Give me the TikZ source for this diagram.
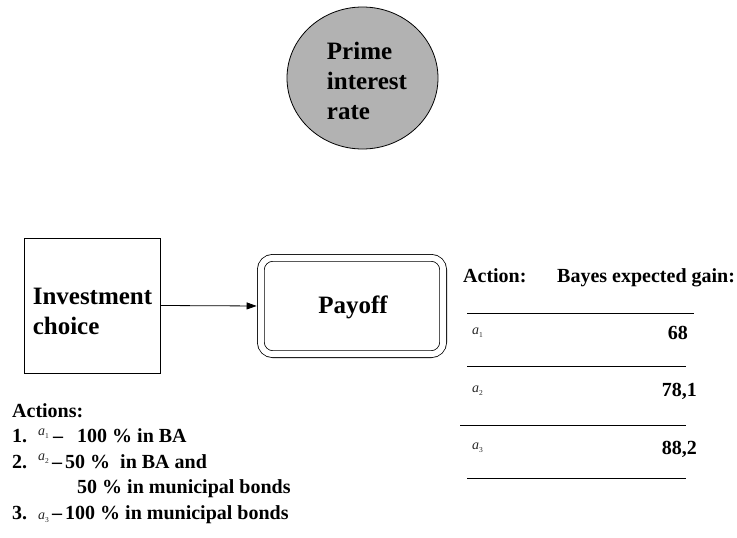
\documentclass[tikz,border=0pt]{standalone}
\usepackage{fontspec}
\setmainfont{Liberation Serif}
\usetikzlibrary{arrows.meta,shapes.geometric}
% italic action variable with a small subscript index
\newcommand\actvar[1]{\textit{a}\raisebox{-0.22em}{\fontsize{7.5}{7.5}\selectfont #1}}
\begin{document}
\begin{tikzpicture}[x=1pt,y=-1pt,
  bigtxt/.style={font=\fontsize{25}{30}\selectfont\bfseries, inner sep=0pt, align=left},
  txt/.style={font=\fontsize{20}{24}\selectfont\bfseries, inner sep=0pt},
  avar/.style={font=\fontsize{14}{16}\selectfont, inner sep=0pt, text=black!85},
  tablerule/.style={line width=1pt},
  frame/.style={draw, line width=0.8pt, inner sep=0pt},
]
\useasboundingbox (0,0) rectangle (737,538);

% chance node
\node[frame, ellipse, fill=black!30, minimum width=151pt, minimum height=142pt] (rate) at (362.5,78) {};
\node[bigtxt] (rateLabel) at (367,80.5) {Prime\\interest\\rate};

% decision node
\node[frame, minimum width=136pt, minimum height=135pt] (inv) at (92,305.5) {};
\node[bigtxt] (invLabel) at (92.5,311.5) {Investment\\choice};

% value node
\node[frame, double, double distance=6pt, rounded corners=12pt,
      minimum width=182.4pt, minimum height=96.4pt] (pay) at (352,306) {};
\node[bigtxt, anchor=base] (payLabel) at (353,313) {Payoff};

\draw[line width=0.8pt, -{Triangle[length=10pt,width=7pt]}, shorten >=3.8pt] (inv.east) -- (pay.west);

% table of expected gains
\node[txt, anchor=base west] (hAct) at (463,282) {Action:};
\node[txt, anchor=base west] (hGain) at (557,282) {Bayes expected gain:};
\draw[tablerule] (467,313) -- (694,313);
\draw[tablerule] (467,366) -- (686,366);
\draw[tablerule] (460,425) -- (686,425);
\draw[tablerule] (467,478) -- (686,478);
\node[avar, anchor=base west] (ta1) at (472,334) {\actvar{1}};
\node[avar, anchor=base west] (ta2) at (472,392) {\actvar{2}};
\node[avar, anchor=base west] (ta3) at (472,449) {\actvar{3}};
\node[txt, anchor=base east] (g1) at (688,339) {68};
\node[txt, anchor=base east] (g2) at (697,396) {78,1};
\node[txt, anchor=base east] (g3) at (697,454) {88,2};

% list of actions
\node[txt, anchor=base west] (actHead) at (12,417) {Actions:};
\node[txt, anchor=base west] (n1) at (12,442.5) {1.};
\node[avar, anchor=base west] (la1) at (38,435) {\actvar{1}};
\node[txt, anchor=base west] (t1) at (53,442.5) {–\hspace{14pt}100 \% in BA};
\node[txt, anchor=base west] (n2) at (12,468) {2.};
\node[avar, anchor=base west] (la2) at (38,460.5) {\actvar{2}};
\node[txt, anchor=base west] (t2) at (52,468) {–\hspace{3pt}50 \%\ \ in BA and};
\node[txt, anchor=base west] (t2b) at (77,493.5) {50 \% in municipal bonds};
\node[txt, anchor=base west] (n3) at (12,519) {3.};
\node[avar, anchor=base west] (la3) at (38,519) {\actvar{3}};
\node[txt, anchor=base west] (t3) at (52,519) {–\hspace{3pt}100 \% in municipal bonds};
\end{tikzpicture}
\end{document}
